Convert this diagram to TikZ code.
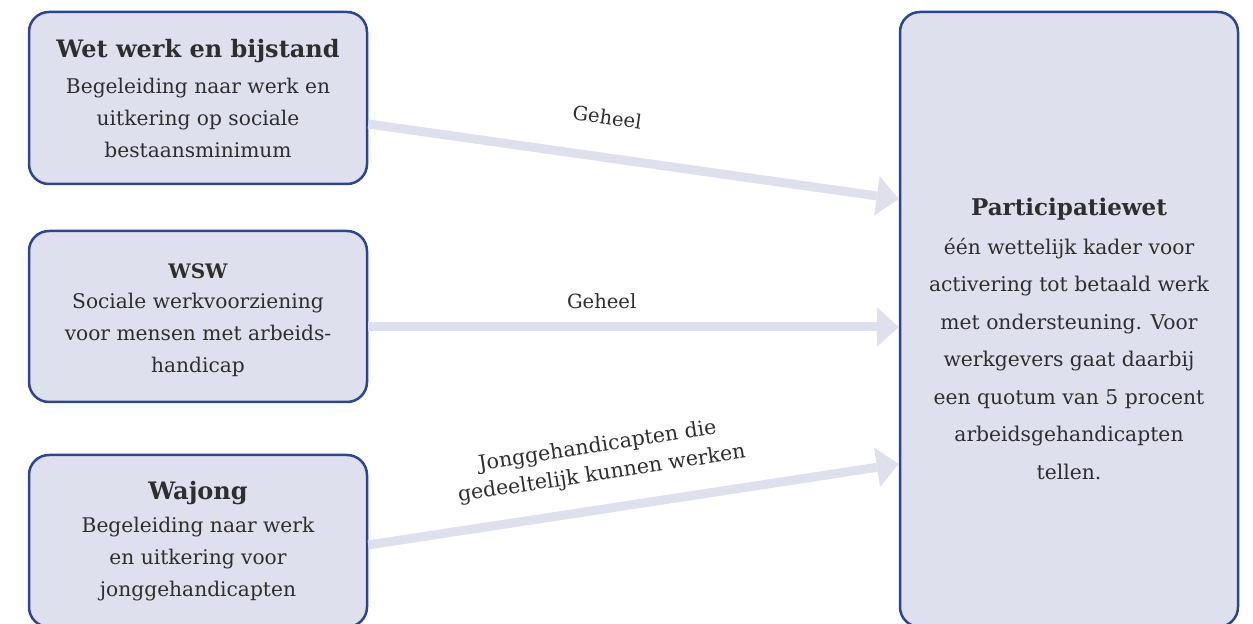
\documentclass[tikz,border=0pt]{standalone}
\usepackage{fontspec}
\setmainfont{DejaVu Serif}
\usetikzlibrary{arrows.meta}
\definecolor{boxfill}{HTML}{DFE0EE}
\definecolor{boxline}{HTML}{2B4595}
\definecolor{flowcol}{HTML}{DFE0EE}
\definecolor{ink}{HTML}{2E2E2E}
\tikzset{
  law/.style={draw=boxline, fill=boxfill, line width=1.25pt,
    rounded corners=10pt, minimum width=169pt, inner sep=0pt},
  heading/.style={font=\bfseries\fontsize{12}{14}\selectfont, text=ink, inner sep=0pt},
  body/.style={align=center, font=\fontsize{10.1}{16}\selectfont, text=ink, inner sep=0pt},
  bodywide/.style={align=center, font=\fontsize{10.15}{18.75}\selectfont, text=ink, inner sep=0pt},
  flowlabel/.style={align=center, font=\fontsize{9.8}{13.5}\selectfont, text=ink, inner sep=0pt},
  flow/.style={draw=flowcol, line width=4.5pt,
    -{Triangle[width=20pt,length=11pt,line width=0pt]}}
}
\begin{document}
\begin{tikzpicture}[x=0.5pt,y=-0.5pt]
\useasboundingbox (0,0) rectangle (1253,624);
\clip (0,0) rectangle (1253,624);

% boxes (the lower ones run past the bottom edge)
\node[law, minimum height=86pt]    (b1) at (198,98)    {};
\node[law, minimum height=85.5pt]  (b2) at (198,316.5) {};
\node[law, minimum height=86pt]    (b3) at (198,541)   {};
\node[law, minimum height=307.5pt] (P)  at (1069,319.5) {};

% box texts
\node[heading] (t1) at (198,51) {Wet werk en bijstand};
\node[body]    (d1) at (198,118) {Begeleiding naar werk en\\uitkering op sociale\\bestaansminimum};

\node[heading, font=\bfseries\fontsize{10}{12}\selectfont] (t2) at (198,271) {WSW};
\node[body]    (d2) at (198,335) {Sociale werkvoorziening\\voor mensen met arbeids-\\handicap};

\node[heading] (t3) at (198,493) {Wajong};
\node[body]    (d3) at (198,559) {Begeleiding naar werk\\en uitkering voor\\jonggehandicapten};

\node[heading, font=\bfseries\fontsize{11.5}{14}\selectfont] (t4) at (1069,209) {Participatiewet};
\node[bodywide] (d4) at (1069,359) {één wettelijk kader voor\\activering tot betaald werk\\met ondersteuning. Voor\\werkgevers gaat daarbij\\een quotum van 5 procent\\arbeidsgehandicapten\\tellen.};

% flows into the Participatiewet
\draw[flow] ([yshift=-13pt]b1.east) -- ([yshift=60.25pt]P.west)
  node[flowlabel, pos=0.44, sloped, above=14pt] (l1) {Geheel};
\draw[flow] ([yshift=-5.25pt]b2.east) -- ([yshift=-3.75pt]P.west)
  node[flowlabel, pos=0.44, above=7pt] (l2) {Geheel};
\draw[flow] ([yshift=-2pt]b3.east) -- ([yshift=-72.25pt]P.west)
  node[flowlabel, font=\fontsize{10.3}{14}\selectfont, pos=0.45, sloped, above=10pt] (l3) {Jonggehandicapten die\\gedeeltelijk kunnen werken};
\end{tikzpicture}
\end{document}
